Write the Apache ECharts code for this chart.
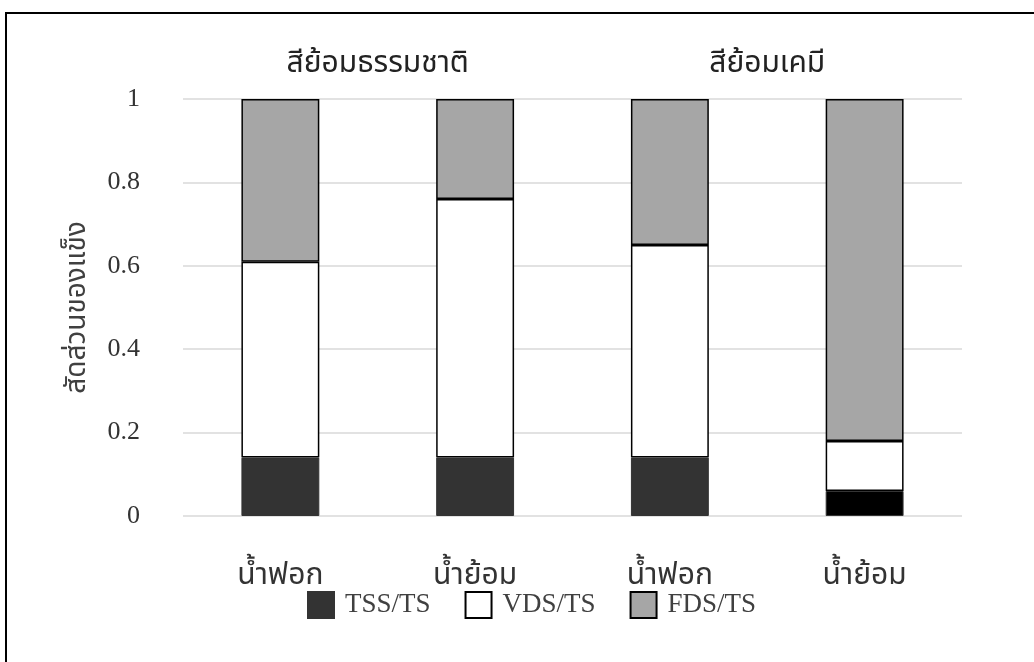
<!DOCTYPE html>
<html>
<head>
<meta charset="utf-8">
<script src="https://cdn.jsdelivr.net/npm/echarts@6/dist/echarts.min.js"></script>
<style>
  html, body { margin: 0; padding: 0; background: #fff; }
  #chart { width: 1034px; height: 662px; }
  .frame { position: absolute; left: 5px; top: 12px; width: 1100px; height: 700px;
           border-left: 2px solid #000; border-top: 2px solid #000; pointer-events: none; }
</style>
</head>
<body>
<div id="chart"></div>
<div class="frame"></div>
<script>
// data
const categories = ["น้ำฟอก", "น้ำย้อม", "น้ำฟอก", "น้ำย้อม"];
const groups = ["สีย้อมธรรมชาติ", "สีย้อมเคมี"];
const tssTs = [0.14, 0.14, 0.14, 0.06];
const vdsTs = [0.47, 0.62, 0.51, 0.12];
const fdsTs = [0.39, 0.24, 0.35, 0.82];
const seriesNames = ["TSS/TS", "VDS/TS", "FDS/TS"];

const thaiFont = "'Noto Sans Thai', 'Noto Serif Thai', 'DejaVu Sans', sans-serif";
const numFont = "'Liberation Serif', 'Times New Roman', serif";

let chart = echarts.init(document.getElementById("chart"));

chart.setOption({
  animation: false,
  grid: { left: 183, right: 72, top: 99, bottom: 146, containLabel: false },
  legend: {
    data: seriesNames,
    icon: "rect",
    left: 302,
    top: 586,
    itemWidth: 26,
    itemHeight: 26,
    itemGap: 34,
    textStyle: { fontFamily: numFont, fontSize: 27, color: "#404040", padding: [0, 0, 0, 6] }
  },
  xAxis: [
    {
      type: "category",
      data: categories,
      axisLine: { show: false },
      axisTick: { show: false },
      axisLabel: { fontFamily: thaiFont, fontSize: 30, color: "#333", margin: 47 }
    },
    {
      type: "category",
      data: groups,
      position: "top",
      axisLine: { show: false },
      axisTick: { show: false },
      axisLabel: { fontFamily: thaiFont, fontSize: 30, color: "#222", margin: 18 }
    }
  ],
  yAxis: {
    type: "value",
    min: 0,
    max: 1,
    interval: 0.2,
    name: "สัดส่วนของแข็ง",
    nameLocation: "middle",
    nameRotate: 90,
    nameGap: 90,
    nameTextStyle: { fontFamily: thaiFont, fontSize: 28, color: "#404040" },
    axisLine: { show: false },
    axisTick: { show: false },
    splitLine: { lineStyle: { color: "#d9d9d9", width: 1.5 } },
    axisLabel: {
      fontFamily: numFont, fontSize: 26, color: "#333", margin: 43,
      formatter: v => String(Math.round(v * 10) / 10)
    }
  },
  series: [
    {
      name: seriesNames[0],
      type: "bar",
      stack: "s",
      barWidth: "40%",
      data: tssTs.map((v, i) => i === 3 ? { value: v, itemStyle: { color: "#000" } } : v),
      itemStyle: { color: "#333333", borderColor: "#333333", borderWidth: 1 }
    },
    {
      name: seriesNames[1],
      type: "bar",
      stack: "s",
      data: vdsTs,
      itemStyle: { color: "#ffffff", borderColor: "#000", borderWidth: 1.5 }
    },
    {
      name: seriesNames[2],
      type: "bar",
      stack: "s",
      data: fdsTs,
      itemStyle: { color: "#a6a6a6", borderColor: "#000", borderWidth: 1.5 }
    }
  ]
});
</script>
</body>
</html>
